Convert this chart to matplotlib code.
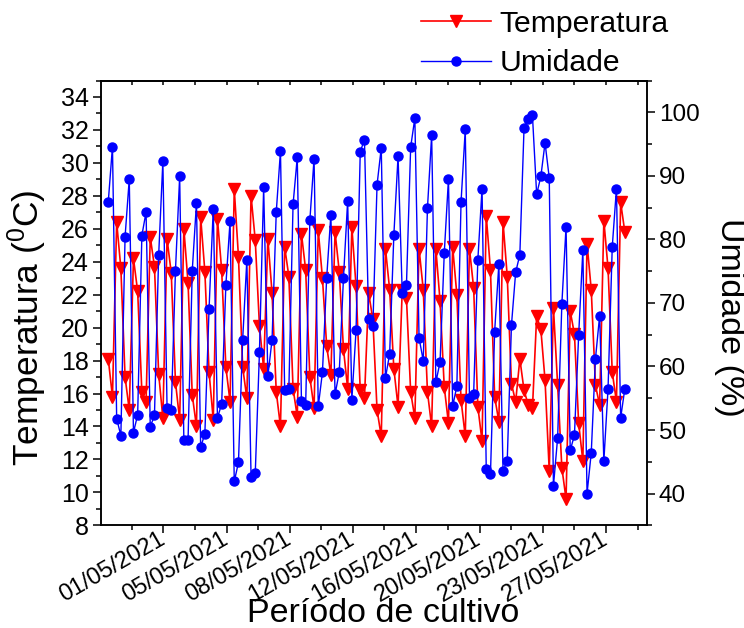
import numpy as np
import matplotlib
matplotlib.use('Agg')
import matplotlib.pyplot as plt
import matplotlib.transforms as mtransforms
from matplotlib.ticker import MultipleLocator

plt.rcParams['font.family'] = ['Liberation Sans', 'DejaVu Sans']
plt.rcParams['mathtext.fontset'] = 'custom'
plt.rcParams['mathtext.rm'] = 'Liberation Sans'
plt.rcParams['mathtext.it'] = 'Liberation Sans:italic'

# leituras 4x ao dia (temperatura em oC, umidade relativa em %)
temperatura = [
    18.1, 15.8, 26.4, 23.6, 17.0, 15.0, 24.2, 22.2, 16.1, 15.5,
    25.5, 23.7, 17.2, 14.5, 25.4, 23.3, 16.7, 14.4, 26.0, 22.7,
    15.9, 14.0, 26.7, 23.4, 17.3, 14.4, 26.6, 23.5, 17.6, 15.5,
    28.4, 24.3, 17.6, 15.7, 28.0, 25.3, 20.1, 17.5, 25.4, 22.1,
    16.1, 14.0, 24.9, 23.1, 16.3, 14.6, 25.7, 23.5, 17.0, 15.1,
    25.9, 23.0, 18.9, 17.1, 25.8, 23.4, 18.7, 16.3, 26.1, 22.5,
    16.2, 15.7, 22.1, 20.5, 15.0, 13.4, 24.8, 22.3, 17.5, 15.2,
    22.3, 21.8, 16.1, 14.5, 24.8, 22.3, 16.1, 14.0, 24.8, 21.6,
    16.4, 14.2, 24.9, 22.0, 15.6, 13.4, 24.8, 22.4, 15.2, 13.1,
    26.8, 23.5, 15.8, 14.3, 26.4, 23.1, 16.6, 15.5, 18.1, 16.2,
    15.3, 15.1, 20.7, 19.9, 16.8, 11.3, 21.2, 16.5, 11.5, 9.6,
    21.0, 19.6, 14.2, 11.9, 25.1, 22.3, 16.5, 15.3, 26.5, 23.6,
    17.3, 15.5, 27.6, 25.8,
]

umidade = [
    85.9, 94.6, 51.8, 49.1, 80.4, 89.5, 49.6, 52.4, 80.6, 84.3,
    50.5, 52.3, 77.5, 92.3, 53.4, 53.2, 75.1, 89.9, 48.4, 48.5,
    75.1, 85.7, 47.3, 49.4, 69.1, 84.8, 51.9, 54.1, 72.8, 82.9,
    41.9, 44.9, 64.2, 76.8, 42.6, 43.2, 62.3, 88.2, 58.5, 64.2,
    84.3, 93.9, 56.3, 56.4, 85.5, 92.9, 54.5, 53.9, 83.0, 92.7,
    53.7, 59.1, 73.9, 83.9, 55.6, 59.1, 73.9, 86.1, 54.8, 65.7,
    93.8, 95.7, 67.4, 66.3, 88.6, 94.4, 58.2, 62.0, 80.7, 93.1,
    71.5, 72.8, 94.5, 99.1, 64.5, 60.9, 84.9, 96.4, 57.5, 60.7,
    77.8, 89.5, 53.7, 56.9, 85.9, 97.3, 55.1, 55.7, 76.8, 88.0,
    43.8, 43.0, 65.5, 76.1, 43.5, 45.2, 66.5, 74.8, 77.6, 97.6,
    99.0, 99.5, 87.1, 89.9, 95.2, 89.7, 41.2, 48.8, 69.8, 82.0,
    46.8, 49.2, 64.9, 78.3, 40.0, 46.4, 61.2, 68.0, 45.1, 56.5,
    78.8, 88.0, 51.9, 56.5,
]

datas = ['01/05/2021', '05/05/2021', '08/05/2021', '12/05/2021',
         '16/05/2021', '20/05/2021', '23/05/2021', '27/05/2021']
pos_datas = [13.1, 28.2, 43.2, 58.3, 73.3, 88.4, 103.4, 118.5]

x = np.arange(len(temperatura))

fig = plt.figure(figsize=(7.44, 6.28), dpi=100)
ax = fig.add_axes([0.1353, 0.1635, 0.7339, 0.7083])
ax2 = ax.twinx()

l1, = ax.plot(x, temperatura, color='red', lw=1.2, marker='v', ms=8.5,
              label='Temperatura')
l2, = ax2.plot(x, umidade, color='blue', lw=1.0, marker='o', ms=6.5,
               label='Umidade')

ax.set_xlim(-1.81, 128.2)
ax.set_ylim(8, 35)
ax2.set_ylim(35, 105)

# eixo x: datas nas marcas principais, marcas menores no meio
passo = pos_datas[1] - pos_datas[0]
menores = [p - passo / 2 for p in pos_datas] + [pos_datas[-1] + passo / 2]
ax.set_xticks(pos_datas)
ax.set_xticks(menores, minor=True)
ax.set_xticklabels(datas, rotation=30, ha='right', va='center',
                   rotation_mode='anchor', fontsize=17)
desloc = mtransforms.ScaledTranslation(2 / 100, 4 / 100, fig.dpi_scale_trans)
for lbl in ax.get_xticklabels():
    lbl.set_transform(lbl.get_transform() + desloc)

ax.set_yticks(np.arange(8, 35, 2))
ax.yaxis.set_minor_locator(MultipleLocator(1))
ax2.set_yticks(np.arange(40, 101, 10))
ax2.yaxis.set_minor_locator(MultipleLocator(5))

ax.tick_params(which='major', length=5.6, width=1.1, pad=3)
ax.tick_params(axis='y', labelsize=18)
ax.tick_params(which='minor', length=3.4, width=1.1)
ax2.tick_params(which='major', length=5.6, width=1.1, labelsize=17.5, pad=3)
ax2.tick_params(which='minor', length=3.4, width=1.1)

# marcas espelhadas no topo, para dentro
topo = ax.secondary_xaxis('top')
topo.set_xticks(sorted(pos_datas + menores))
topo.tick_params(direction='in', length=3, width=1.1, labeltop=False)

for a in (ax, ax2):
    for s in a.spines.values():
        s.set_linewidth(1.1)
topo.spines['top'].set_linewidth(1.1)

ax.set_xlabel('Período de cultivo', fontsize=24.5)
ax.set_ylabel('Temperatura ($^0$C)', fontsize=25.5)
ax2.set_ylabel('Umidade (%)', fontsize=24.5, rotation=270)
for lab in (ax.xaxis.label, ax.yaxis.label, ax2.yaxis.label):
    lab.set_va('center')
    lab.set_ha('center')
ax.xaxis.set_label_coords(0.517, -0.198)
ax.yaxis.set_label_coords(-0.134, 0.445)
ax2.yaxis.set_label_coords(1.152, 0.468)

fig.legend(handles=[l1, l2], loc='upper left',
           bbox_to_anchor=(421 / 744, 1 - 10 / 628), frameon=False,
           fontsize=21.7, handlelength=2.33, handletextpad=0.27,
           labelspacing=0.38, borderpad=0, borderaxespad=0)

fig.savefig('out.png', dpi=100)
